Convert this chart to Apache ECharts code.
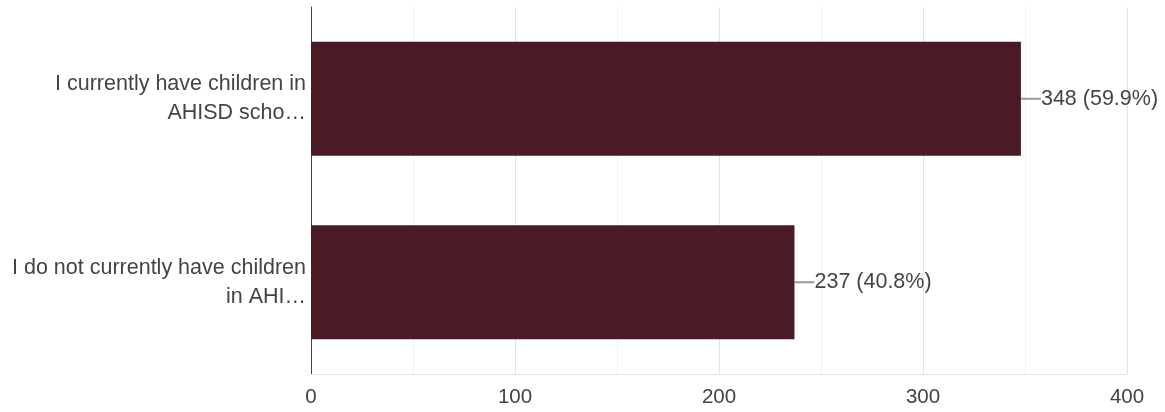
<!DOCTYPE html>
<html>
<head>
<meta charset="utf-8">
<script src="https://cdn.jsdelivr.net/npm/echarts@6/dist/echarts.min.js"></script>
<style>html,body{margin:0;padding:0;background:#fff}#c{width:1165px;height:412px}</style>
</head>
<body>
<div id="c"></div>
<script>
var categories = ["I currently have children in\nAHISD scho\u2026", "I do not currently have children\nin AHI\u2026"];
var values = [348, 237];
var percents = ["59.9%", "40.8%"];
var xTicks = [0, 100, 200, 300, 400];

var chart = echarts.init(document.getElementById('c'));
var font = "'Liberation Sans', Arial, sans-serif";
chart.setOption({
  animation: false,
  grid: { left: 311, right: 38, top: 7, bottom: 38 },
  xAxis: {
    type: 'value', min: xTicks[0], max: xTicks[xTicks.length - 1], interval: 100,
    axisLine: { show: true, lineStyle: { color: '#e4e4e4', width: 1 } }, axisTick: { show: false },
    axisLabel: { color: '#444', fontSize: 20.5, fontFamily: font, margin: 13 },
    splitLine: { lineStyle: { color: '#e4e4e4', width: 1 } },
    minorTick: { show: false, splitNumber: 2 },
    minorSplitLine: { show: true, lineStyle: { color: '#f0f0f0', width: 1 } }
  },
  yAxis: {
    type: 'category', data: categories, inverse: true,
    axisLine: { show: true, lineStyle: { color: '#444', width: 1 } },
    axisTick: { show: false },
    axisLabel: { color: '#444', fontSize: 21.5, fontFamily: font, margin: 5, lineHeight: 29, align: 'right' }
  },
  series: [{
    type: 'bar', data: values, barWidth: '62%',
    itemStyle: { color: '#4a1b24' }, silent: true
  }, {
    type: 'custom', silent: true,
    data: values.map(function (v, i) { return [v, i]; }),
    encode: { x: 0, y: 1 },
    renderItem: function (params, api) {
      var p = api.coord([api.value(0), api.value(1)]);
      var i = params.dataIndex;
      return {
        type: 'group',
        children: [
          { type: 'line', shape: { x1: p[0], y1: p[1], x2: p[0] + 20, y2: p[1] },
            style: { stroke: '#999', lineWidth: 2 } },
          { type: 'text', x: p[0] + 20, y: p[1],
            style: { text: values[i] + ' (' + percents[i] + ')', fill: '#444', fontSize: 21.5,
                     fontFamily: font, textVerticalAlign: 'middle', verticalAlign: 'middle' } }
        ]
      };
    }
  }]
});
</script>
</body>
</html>
